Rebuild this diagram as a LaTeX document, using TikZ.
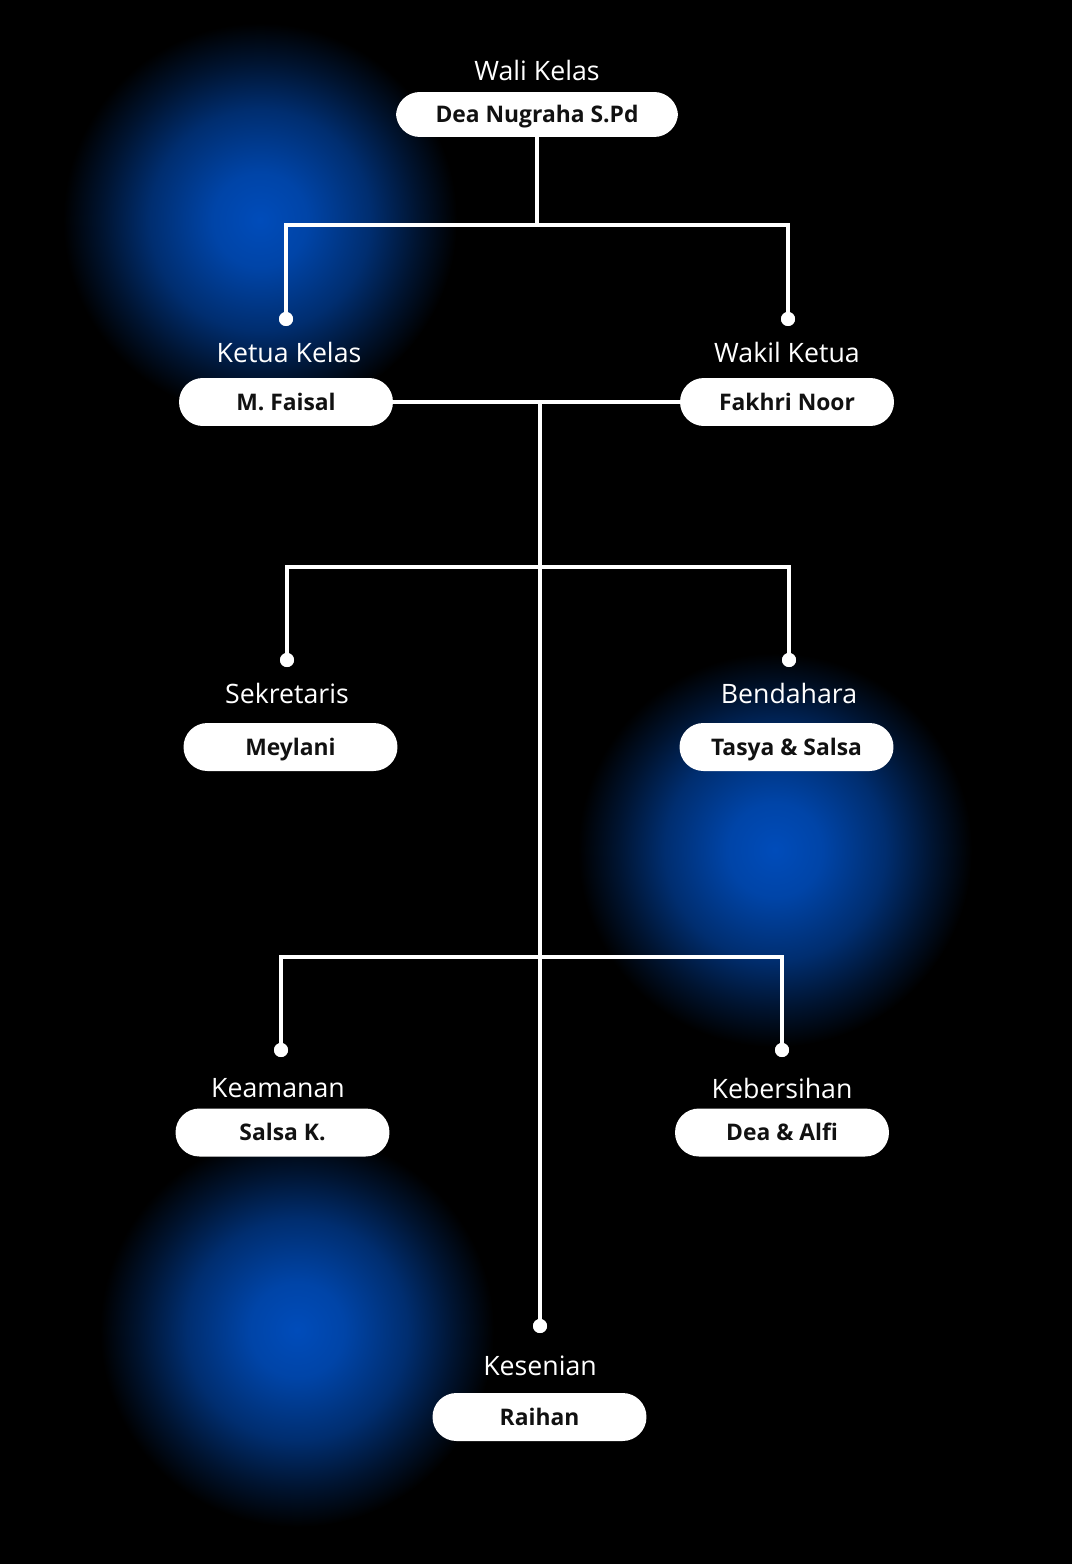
\documentclass[tikz,border=0pt]{standalone}
\usepackage{fontspec}
\setmainfont{Open Sans}
\usetikzlibrary{calc}
\definecolor{glowblue}{RGB}{0,76,186}
\definecolor{pilltext}{RGB}{17,17,17}
\pgfdeclareradialshading{glowshade}{\pgfpoint{0bp}{0bp}}{%
  color(0bp)=(glowblue);
  color(6bp)=(glowblue!90!black);
  color(14bp)=(glowblue!60!black);
  color(20bp)=(glowblue!26!black);
  color(25bp)=(black);
  color(50bp)=(black)}
\tikzset{
  pill/.style={draw=none, fill=white, rounded corners=13.6pt, minimum width=4.28cm,
    minimum height=0.96cm, inner sep=0pt, text=pilltext,
    text height=9.3pt, text depth=0pt,
    font=\fontsize{13}{15}\selectfont\bfseries},
  role/.style={text=white, inner sep=0pt, font=\fontsize{15.2}{18}\selectfont},
  conn/.style={draw=white, line width=2pt},
  dotnode/.style={circle, fill=white, minimum size=0.28cm, inner sep=0pt},
  glow/.style={shading=glowshade}
}
\begin{document}
\begin{tikzpicture}[x=0.02cm, y=-0.02cm]
\fill[black] (0,0) rectangle (1072,1564);
\useasboundingbox (0,0) rectangle (1072,1564);
% glows
\begin{scope}
\clip (0,0) rectangle (1072,1564);
\shade[glow] (260,220) circle (197);
\shade[glow] (775,850) circle (197);
\shade[glow] (297,1330) circle (197);
\end{scope}

% top
\node[role] (lwali) at (537,70) {Wali Kelas};
\node[pill, minimum width=5.64cm, minimum height=0.9cm] (wali) at (537,114.5) {Dea Nugraha S.Pd};

\coordinate (j1) at (537,225);
\node[dotnode] (d1) at (286,319) {};
\node[dotnode] (d2) at (788,319) {};

\node[role] (lketua) at (289,352) {Ketua Kelas};
\node[pill] (ketua) at (286,402) {M. Faisal};
\node[role] (lwakil) at (787,352) {Wakil Ketua};
\node[pill] (wakil) at (787,402) {Fakhri Noor};

\coordinate (j2) at (540,402);
\coordinate (j3) at (540,567);
\node[dotnode] (d3) at (287,660) {};
\node[dotnode] (d4) at (789,660) {};

\node[role] (lsek) at (287,693) {Sekretaris};
\node[pill] (sek) at (290.5,747) {Meylani};
\node[role] (lben) at (789,693) {Bendahara};
\node[pill] (ben) at (786.5,747) {Tasya \& Salsa};

\coordinate (j4) at (540,957);
\node[dotnode] (d5) at (281,1050) {};
\node[dotnode] (d6) at (782,1050) {};

\node[role] (lkeam) at (278,1088) {Keamanan};
\node[pill] (keam) at (282.5,1132.5) {Salsa K.};
\node[role] (lkeb) at (782,1088) {Kebersihan};
\node[pill] (keb) at (782,1132.5) {Dea \& Alfi};

\node[dotnode] (d7) at (540,1326) {};
\node[role] (lkes) at (540,1366) {Kesenian};
\node[pill] (kes) at (539.5,1417) {Raihan};

% connectors
\draw[conn] (wali.south) -- (j1);
\draw[conn] (d1.center) |- (j1) -| (d2.center);
\draw[conn] (ketua.east) -- (wakil.west);
\draw[conn] (j2) -- (d7.center);
\draw[conn] (d3.center) |- (j3) -| (d4.center);
\draw[conn] (d5.center) |- (j4) -| (d6.center);
% redraw dots on top
\foreach \d in {d1,d2,d3,d4,d5,d6,d7} \fill[white] (\d) circle (7);
\end{tikzpicture}
\end{document}
